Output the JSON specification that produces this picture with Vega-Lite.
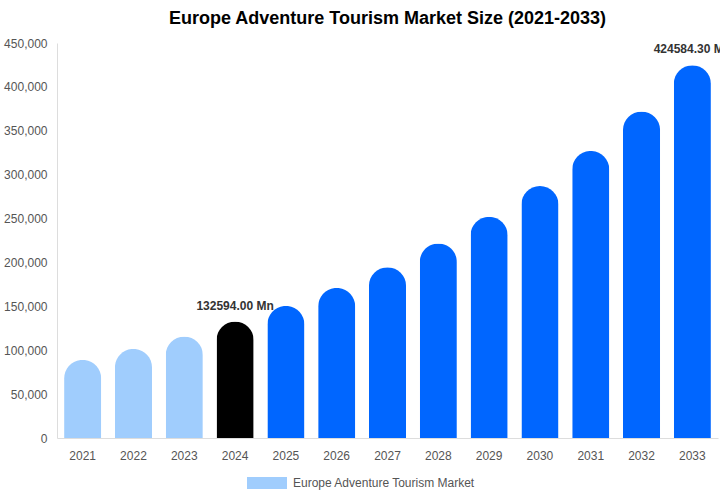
{
  "$schema": "https://vega.github.io/schema/vega-lite/v6.json",
  "autosize": {"type": "none"},
  "width": 661,
  "height": 395,
  "padding": {"left": 57, "top": 43, "right": 2, "bottom": 62},
  "background": "white",
  "title": {
    "text": "Europe Adventure Tourism Market Size (2021-2033)",
    "font": "Liberation Sans",
    "fontSize": 18,
    "fontWeight": "bold",
    "color": "#000000",
    "anchor": "middle",
    "offset": 9
  },
  "config": {
    "view": {"stroke": null},
    "font": "Liberation Sans"
  },
  "data": {
    "values": [
      {"year": "2021", "value": 89000, "phase": "history"},
      {"year": "2022", "value": 101500, "phase": "history"},
      {"year": "2023", "value": 115500, "phase": "history"},
      {"year": "2024", "value": 132594.0, "phase": "base"},
      {"year": "2025", "value": 150500, "phase": "forecast"},
      {"year": "2026", "value": 171000, "phase": "forecast"},
      {"year": "2027", "value": 194500, "phase": "forecast"},
      {"year": "2028", "value": 221500, "phase": "forecast"},
      {"year": "2029", "value": 252000, "phase": "forecast"},
      {"year": "2030", "value": 287000, "phase": "forecast"},
      {"year": "2031", "value": 327000, "phase": "forecast"},
      {"year": "2032", "value": 372000, "phase": "forecast"},
      {"year": "2033", "value": 424584.3, "phase": "forecast"}
    ]
  },
  "encoding": {
    "x": {
      "field": "year",
      "type": "ordinal",
      "title": null,
      "scale": {"paddingInner": 0.27, "paddingOuter": 0.14},
      "axis": {
        "labelAngle": 0,
        "labelColor": "#555555",
        "labelFontSize": 12,
        "labelPadding": 12,
        "ticks": false,
        "domainColor": "#dddddd",
        "grid": false
      }
    },
    "y": {
      "field": "value",
      "type": "quantitative",
      "title": null,
      "scale": {"domain": [0, 450000], "nice": false},
      "axis": {
        "values": [0, 50000, 100000, 150000, 200000, 250000, 300000, 350000, 400000, 450000],
        "format": ",.0f",
        "labelColor": "#555555",
        "labelFontSize": 12,
        "labelPadding": 10,
        "ticks": false,
        "domainColor": "#dddddd",
        "grid": false
      }
    }
  },
  "layer": [
    {
      "mark": {"type": "bar", "cornerRadiusTopLeft": 18.5, "cornerRadiusTopRight": 18.5},
      "encoding": {
        "color": {
          "field": "phase",
          "type": "nominal",
          "scale": {"domain": ["history", "base", "forecast"], "range": ["#a0cdfd", "#000000", "#0066ff"]},
          "legend": {
            "title": null,
            "orient": "none",
            "legendX": 190,
            "legendY": 420,
            "direction": "horizontal",
            "values": ["history"],
            "labelExpr": "'Europe Adventure Tourism Market'",
            "labelLimit": 0,
            "symbolType": "M-1,-0.3L1,-0.3L1,0.3L-1,0.3Z",
            "symbolSize": 1600,
            "symbolStrokeWidth": 0,
            "labelFontSize": 12,
            "labelColor": "#555555",
            "labelOffset": 6
          }
        }
      }
    },
    {
      "transform": [
        {"filter": "datum.year == '2024' || datum.year == '2033'"},
        {"calculate": "format(datum.value, '.2f') + ' Mn'", "as": "label"}
      ],
      "mark": {
        "type": "text",
        "baseline": "bottom",
        "dy": -9,
        "fontSize": 12,
        "fontWeight": "bold",
        "color": "#333333"
      },
      "encoding": {
        "text": {"field": "label", "type": "nominal"}
      }
    }
  ]
}
